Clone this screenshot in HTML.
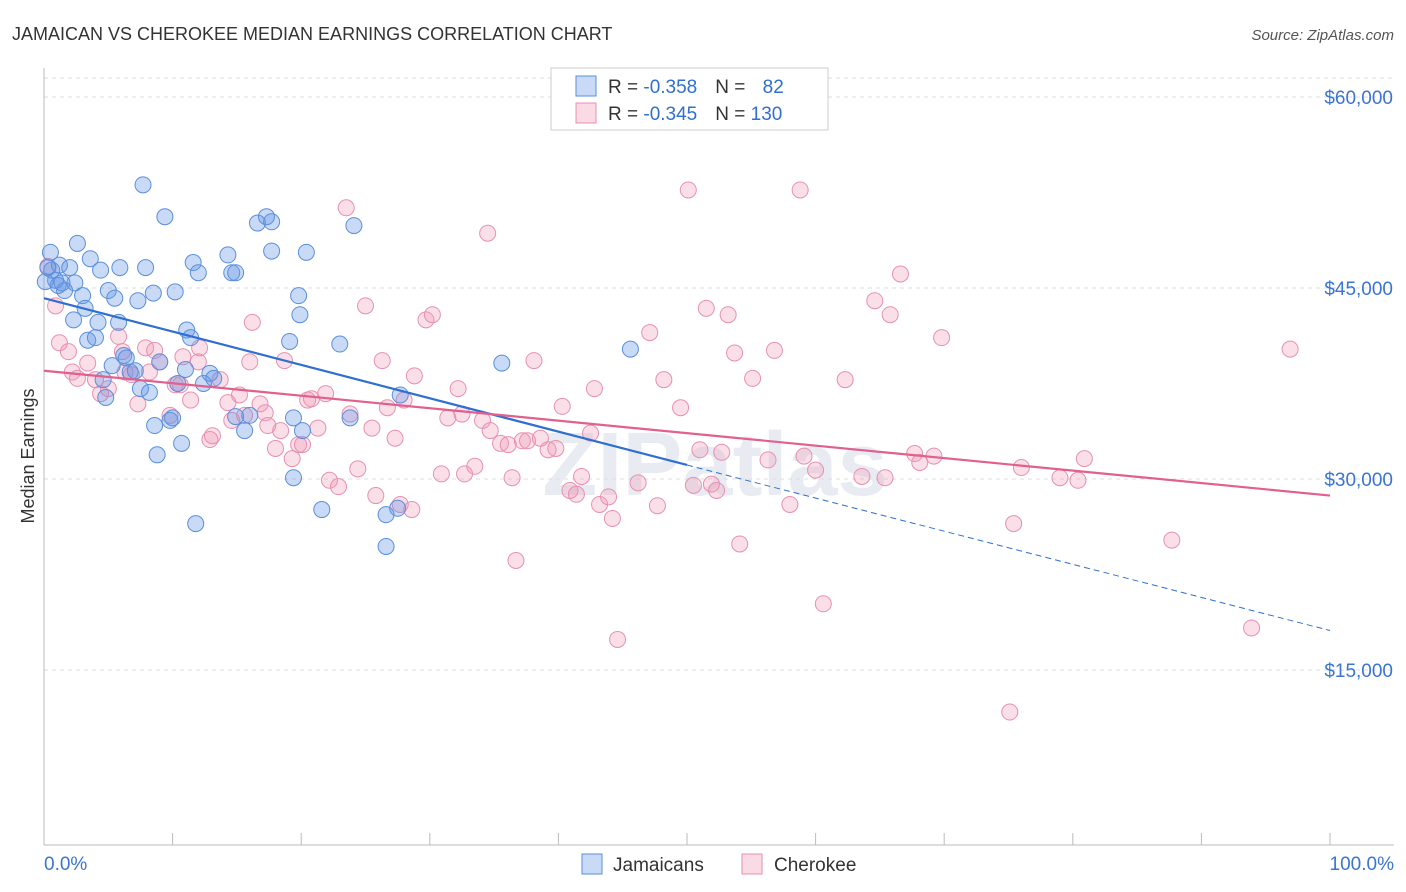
<!DOCTYPE html>
<html><head><meta charset="utf-8"><style>
body{margin:0;background:#fff;font-family:"Liberation Sans",sans-serif;}
svg{display:block}
</style></head><body>
<svg id="c" width="1406" height="892">
<text x="12" y="40" font-size="18" fill="#333">JAMAICAN VS CHEROKEE MEDIAN EARNINGS CORRELATION CHART</text>
<text x="1394" y="40" font-size="15" fill="#555" font-style="italic" text-anchor="end">Source: ZipAtlas.com</text>
<text x="715" y="495" font-size="90" fill="#e8ecf2" text-anchor="middle" font-weight="bold">ZIPatlas</text>
<g id="grid"></g><g id="axes"></g><g id="pts"></g><g id="trend"></g>
<text transform="translate(34,456) rotate(-90)" font-size="18" fill="#333" text-anchor="middle">Median Earnings</text>
<g>
<rect x="551" y="68" width="277" height="62" fill="#fff" stroke="#ccc"/>
<rect x="576" y="76" width="20" height="20" fill="rgba(100,150,230,0.35)" stroke="#5a8fdc"/>
<rect x="576" y="103" width="20" height="20" fill="rgba(240,150,180,0.35)" stroke="#e890b0"/>
<text x="608" y="93" font-size="19" fill="#333">R = <tspan fill="#2f6fd0">-0.358</tspan><tspan dx="18">N = </tspan><tspan fill="#2f6fd0" dx="12">82</tspan></text>
<text x="608" y="120" font-size="19" fill="#333">R = <tspan fill="#2f6fd0">-0.345</tspan><tspan dx="18">N = </tspan><tspan fill="#2f6fd0">130</tspan></text>
</g>
<g>
<rect x="582" y="854" width="20" height="20" fill="rgba(100,150,230,0.35)" stroke="#5a8fdc"/>
<text x="613" y="871" font-size="19" fill="#333">Jamaicans</text>
<rect x="742" y="854" width="20" height="20" fill="rgba(240,150,180,0.35)" stroke="#e890b0"/>
<text x="774" y="871" font-size="19" fill="#333">Cherokee</text>
</g>
</svg>
<script>
const yTicks=[15000,30000,45000,60000];
const yTickLabels=["$15,000","$30,000","$45,000","$60,000"];
const blueX=[0.5,0.6,0.9,1.2,1.6,2.0,2.4,2.6,2.3,3.0,3.2,3.6,3.4,4.0,4.2,4.4,4.6,4.8,5.0,5.3,5.5,5.8,5.9,6.2,6.4,6.7,7.1,7.3,7.5,7.7,7.9,8.2,8.5,8.6,8.8,9.0,9.4,9.8,10.0,10.2,10.4,10.7,11.0,11.1,11.4,11.6,11.8,12.0,12.4,12.9,13.2,14.3,14.6,14.9,14.9,15.6,16.0,16.6,17.3,17.7,17.7,19.1,19.4,19.4,19.8,19.9,20.1,20.4,21.6,23.0,23.8,24.1,26.6,26.6,27.5,27.7,35.6,45.6,0.1,0.3,1.1,1.4];
const blueY=[47.8,46.4,45.6,46.8,44.8,46.6,45.4,48.5,42.5,44.4,43.4,47.3,40.9,41.1,42.3,46.4,37.8,36.4,44.8,38.9,44.2,42.3,46.6,39.7,39.5,38.4,38.5,44.0,37.1,53.1,46.6,36.8,44.6,34.2,31.9,39.2,50.6,34.6,34.8,44.7,37.5,32.8,38.6,41.7,41.1,47.0,26.5,46.2,37.5,38.3,37.9,47.6,46.2,46.2,34.9,33.8,35.0,50.1,50.6,50.2,47.9,40.8,30.1,34.8,44.4,42.9,33.8,47.8,27.6,40.6,34.8,49.9,27.2,24.7,27.7,36.6,39.1,40.2,45.5,46.6,45.2,45.4];
const pinkX=[0.3,0.9,1.2,1.9,2.2,2.6,3.4,4.0,4.4,5.0,5.8,6.1,6.3,6.8,7.3,7.9,8.2,8.6,9.0,9.8,10.2,10.6,10.8,11.4,12.0,12.1,12.9,13.1,13.7,14.3,14.6,15.2,15.6,16.2,16.0,16.8,17.2,17.4,18.0,18.4,18.7,19.3,19.8,20.1,20.5,20.8,21.3,21.9,22.2,22.9,23.5,23.8,24.4,25.0,25.5,25.8,26.3,26.7,27.3,27.7,28.0,28.6,28.8,29.7,30.2,30.9,31.4,32.2,32.5,32.7,33.5,34.1,34.5,34.7,35.5,36.1,36.4,36.7,37.2,37.6,38.1,38.6,39.2,39.8,40.3,40.9,41.4,41.8,42.5,42.8,43.2,43.9,44.2,44.6,46.2,47.1,47.7,48.2,49.5,50.1,50.5,51.0,51.5,51.9,52.3,52.7,53.2,53.7,54.1,55.1,56.3,56.8,58.0,58.8,59.1,60.0,60.6,62.3,63.6,64.6,65.4,65.8,66.6,67.7,68.1,69.2,69.8,75.1,75.4,76.0,79.0,80.4,80.9,87.7,93.9,96.9];
const pinkY=[46.7,43.6,40.7,40.0,38.4,37.9,39.1,37.8,36.7,37.1,41.2,40.0,38.4,38.2,35.9,40.3,38.4,40.1,39.2,35.0,37.4,37.4,39.6,36.2,39.2,40.3,33.1,33.4,37.8,36.0,34.6,36.6,35.0,42.3,39.2,35.9,35.2,34.2,32.4,33.8,39.3,31.6,32.7,32.7,36.2,36.3,34.0,36.7,29.9,29.4,51.3,35.1,30.8,43.6,34.0,28.7,39.3,35.6,33.2,28.0,36.2,27.6,38.1,42.5,42.9,30.4,34.8,37.1,35.1,30.4,31.0,34.6,49.3,33.8,32.8,32.7,30.1,23.6,33.0,33.0,39.3,33.2,32.3,32.4,35.7,29.1,28.8,30.2,33.6,37.1,28.0,28.6,26.9,17.4,29.7,41.5,27.9,37.8,35.6,52.7,29.5,32.3,43.4,29.6,29.1,32.1,42.9,39.9,24.9,37.9,31.5,40.1,28.0,52.7,31.8,30.7,20.2,37.8,30.2,44.0,30.1,42.9,46.1,32.0,31.3,31.8,41.1,11.7,26.5,30.9,30.1,29.9,31.6,25.2,18.3,40.2];
const blueTrend=[44.2,31.1,18.1]; // at 0%, 50%, 100%
const pinkTrend=[38.5,28.7]; // at 0%, 100%
const X=p=>44+p*12.86;
const Y=v=>861-v/15000*191;
const Yk=v=>Y(v*1000);
const NS="http://www.w3.org/2000/svg";
function mk(t,a,p){const e=document.createElementNS(NS,t);for(const k in a)e.setAttribute(k,a[k]);p.appendChild(e);return e;}
const grid=document.getElementById('grid'),axes=document.getElementById('axes'),pts=document.getElementById('pts'),trend=document.getElementById('trend');
let g=mk('line',{x1:44,x2:1394,y1:78,y2:78,stroke:'#ddd','stroke-dasharray':'4,4'},grid);


yTicks.forEach((t,i)=>{
 const l=mk('line',{x1:44,x2:1394,y1:Y(t),y2:Y(t),stroke:'#ddd','stroke-dasharray':'4,4'},grid);
 
 
 const tx=mk('text',{x:1393,y:Y(t)+7,'font-size':19,fill:'#3a74d4','text-anchor':'end'},axes);
 tx.textContent=yTickLabels[i];
 
 
});
let a=mk('line',{x1:44,x2:44,y1:68,y2:845,stroke:'#bbb'},axes);


a=mk('line',{x1:44,x2:1394,y1:845,y2:845,stroke:'#bbb'},axes);


for(let i=0;i<=10;i++){const t=mk('line',{x1:X(i*10),x2:X(i*10),y1:845,y2:833,stroke:'#bbb'},axes);
 
 }
let xl=mk('text',{x:44,y:870,'font-size':19,fill:'#3a74d4'},axes);xl.textContent='0.0%';


xl=mk('text',{x:1394,y:870,'font-size':19,fill:'#3a74d4','text-anchor':'end'},axes);xl.textContent='100.0%';


pinkX.forEach((x,i)=>{const c=mk('circle',{cx:X(x),cy:Yk(pinkY[i]),r:8,fill:'rgba(240,150,180,0.3)',stroke:'#e890b0','stroke-width':1},pts);
 
 });
blueX.forEach((x,i)=>{const c=mk('circle',{cx:X(x),cy:Yk(blueY[i]),r:8,fill:'rgba(100,150,230,0.35)',stroke:'#5a8fdc','stroke-width':1},pts);
 
 });
let t1=mk('line',{x1:X(0),y1:Yk(blueTrend[0]),x2:X(50),y2:Yk(blueTrend[1]),stroke:'#2f6fd0','stroke-width':2.2},trend);


t1=mk('line',{x1:X(50),y1:Yk(blueTrend[1]),x2:X(100),y2:Yk(blueTrend[2]),stroke:'#2f6fd0','stroke-width':1,'stroke-dasharray':'6,4'},trend);


t1=mk('line',{x1:X(0),y1:Yk(pinkTrend[0]),x2:X(100),y2:Yk(pinkTrend[1]),stroke:'#e0608e','stroke-width':2.2},trend);


</script>
</body></html>
